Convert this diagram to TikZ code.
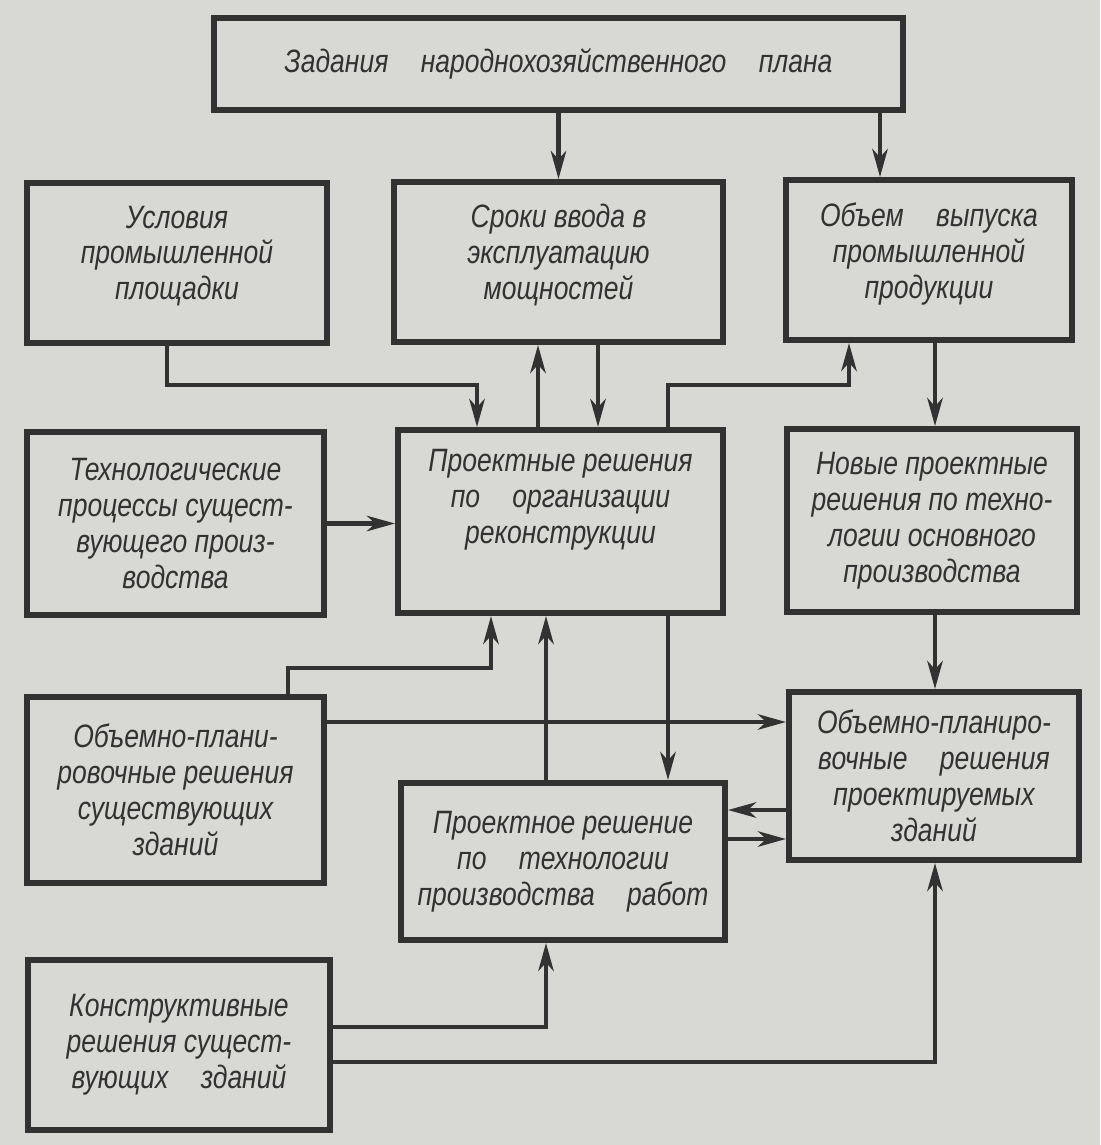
\documentclass[tikz,border=0pt]{standalone}
\usepackage{fontspec}
\setmainfont{Liberation Sans}[FakeStretch=0.82]
\usetikzlibrary{arrows.meta,calc}
\definecolor{Ink}{RGB}{50,50,50}
\definecolor{Paper}{RGB}{216,216,213}
\tikzset{
  blk/.style={draw=Ink,line width=4.2pt,rectangle,inner sep=0pt,align=center,
    text=Ink,font=\itshape\fontsize{23}{25.5}\selectfont},
  txt/.style={align=center,text=Ink,font=\itshape\fontsize{23}{25.5}\selectfont},
  lnk/.style={draw=Ink,line width=3pt,-{Stealth[length=20pt,width=11pt,inset=6pt]}},
}

\begin{document}
\begin{tikzpicture}[x=0.025cm,y=-0.025cm]
  \fill[Paper] (0,0) rectangle (1100,1145);
  \useasboundingbox (0,0) rectangle (1100,1145);

  % blocks
  \node[blk,minimum width=17.225cm,minimum height=2.3cm] (plan) at (558.5,64)
    {Задания\quad народнохозяйственного\quad плана};
  \node[blk,minimum width=7.5cm,minimum height=4cm] (usl) at (177,263) {};
  \node[txt] (usltxt) at (177,256) {Условия\\промышленной\\площадки};
  \node[blk,minimum width=8.225cm,minimum height=4cm] (sroki) at (558.5,262) {};
  \node[txt] (srokitxt) at (558.5,255) {Сроки ввода в\\эксплуатацию\\мощностей};
  \node[blk,minimum width=7.15cm,minimum height=4cm] (obem) at (929,260) {};
  \node[txt] (obemtxt) at (929,254) {Объем\quad выпуска\\промышленной\\продукции};
  \node[blk,minimum width=7.425cm,minimum height=4.575cm] (tech) at (175.5,523.5)
    {Технологические\\процессы сущест-\\вующего произ-\\водства};
  \node[blk,minimum width=8.125cm,minimum height=4.575cm] (org) at (560.5,521.5) {};
  \node[txt] (orgtxt) at (560.5,500)
    {Проектные решения\\по\quad организации\\реконструкции};
  \node[blk,minimum width=7.25cm,minimum height=4.575cm] (novye) at (932,520.5)
    {Новые проектные\\решения по техно-\\логии основного\\производства};
  \node[blk,minimum width=7.425cm,minimum height=4.65cm] (opex) at (175.5,790)
    {Объемно-плани-\\ровочные решения\\существующих\\зданий};
  \node[blk,minimum width=7.25cm,minimum height=4.2cm] (oppr) at (934,776)
    {Объемно-планиро-\\вочные\quad решения\\проектируемых\\зданий};
  \node[blk,minimum width=8.1cm,minimum height=3.925cm] (pptr) at (563,861.5)
    {Проектное решение\\по\quad технологии\\производства\quad работ};
  \node[blk,minimum width=7.55cm,minimum height=4.25cm] (konstr) at (179,1045)
    {Конструктивные\\решения сущест-\\вующих\quad зданий};

  % bends and columns
  \coordinate (k1) at (167,385);
  \coordinate (k2) at (477,385);
  \coordinate (k3) at (538,0);
  \coordinate (k4) at (598,0);
  \coordinate (k5) at (668,385);
  \coordinate (k6) at (849,385);
  \coordinate (k7) at (935,0);
  \coordinate (k8) at (880,0);
  \coordinate (k9) at (288,668);
  \coordinate (k10) at (491,668);
  \coordinate (k11) at (0,722);
  \coordinate (k12) at (546,0);
  \coordinate (k13) at (0,810);
  \coordinate (k14) at (0,839);
  \coordinate (k15) at (546,1027);
  \coordinate (k16) at (935,1062);

  % links
  \draw[lnk] (plan.south -| sroki.north) -- (sroki.north);
  \draw[lnk] (plan.south -| k8) -- (obem.north -| k8);
  \draw[lnk] (usl.south -| k1) -- (k1) -- (k2) -- (org.north -| k2);
  \draw[lnk] (org.north -| k3) -- (sroki.south -| k3);
  \draw[lnk] (sroki.south -| k4) -- (org.north -| k4);
  \draw[lnk] (org.north -| k5) -- (k5) -- (k6) -- (obem.south -| k6);
  \draw[lnk] (obem.south -| k7) -- (novye.north -| k7);
  \draw[lnk] (tech.east) -- (tech.east -| org.west);
  \draw[lnk] (novye.south -| k7) -- (oppr.north -| k7);
  \draw[lnk] (opex.north -| k9) -- (k9) -- (k10) -- (org.south -| k10);
  \draw[lnk] (opex.east |- k11) -- (oppr.west |- k11);
  \draw[lnk] (pptr.north -| k12) -- (org.south -| k12);
  \draw[lnk] (org.south -| k5) -- (pptr.north -| k5);
  \draw[lnk] (oppr.west |- k13) -- (pptr.east |- k13);
  \draw[lnk] (pptr.east |- k14) -- (oppr.west |- k14);
  \draw[lnk] (konstr.east |- k15) -- (k15) -- (pptr.south -| k15);
  \draw[lnk] (konstr.east |- k16) -- (k16) -- (oppr.south -| k16);
\end{tikzpicture}
\end{document}
